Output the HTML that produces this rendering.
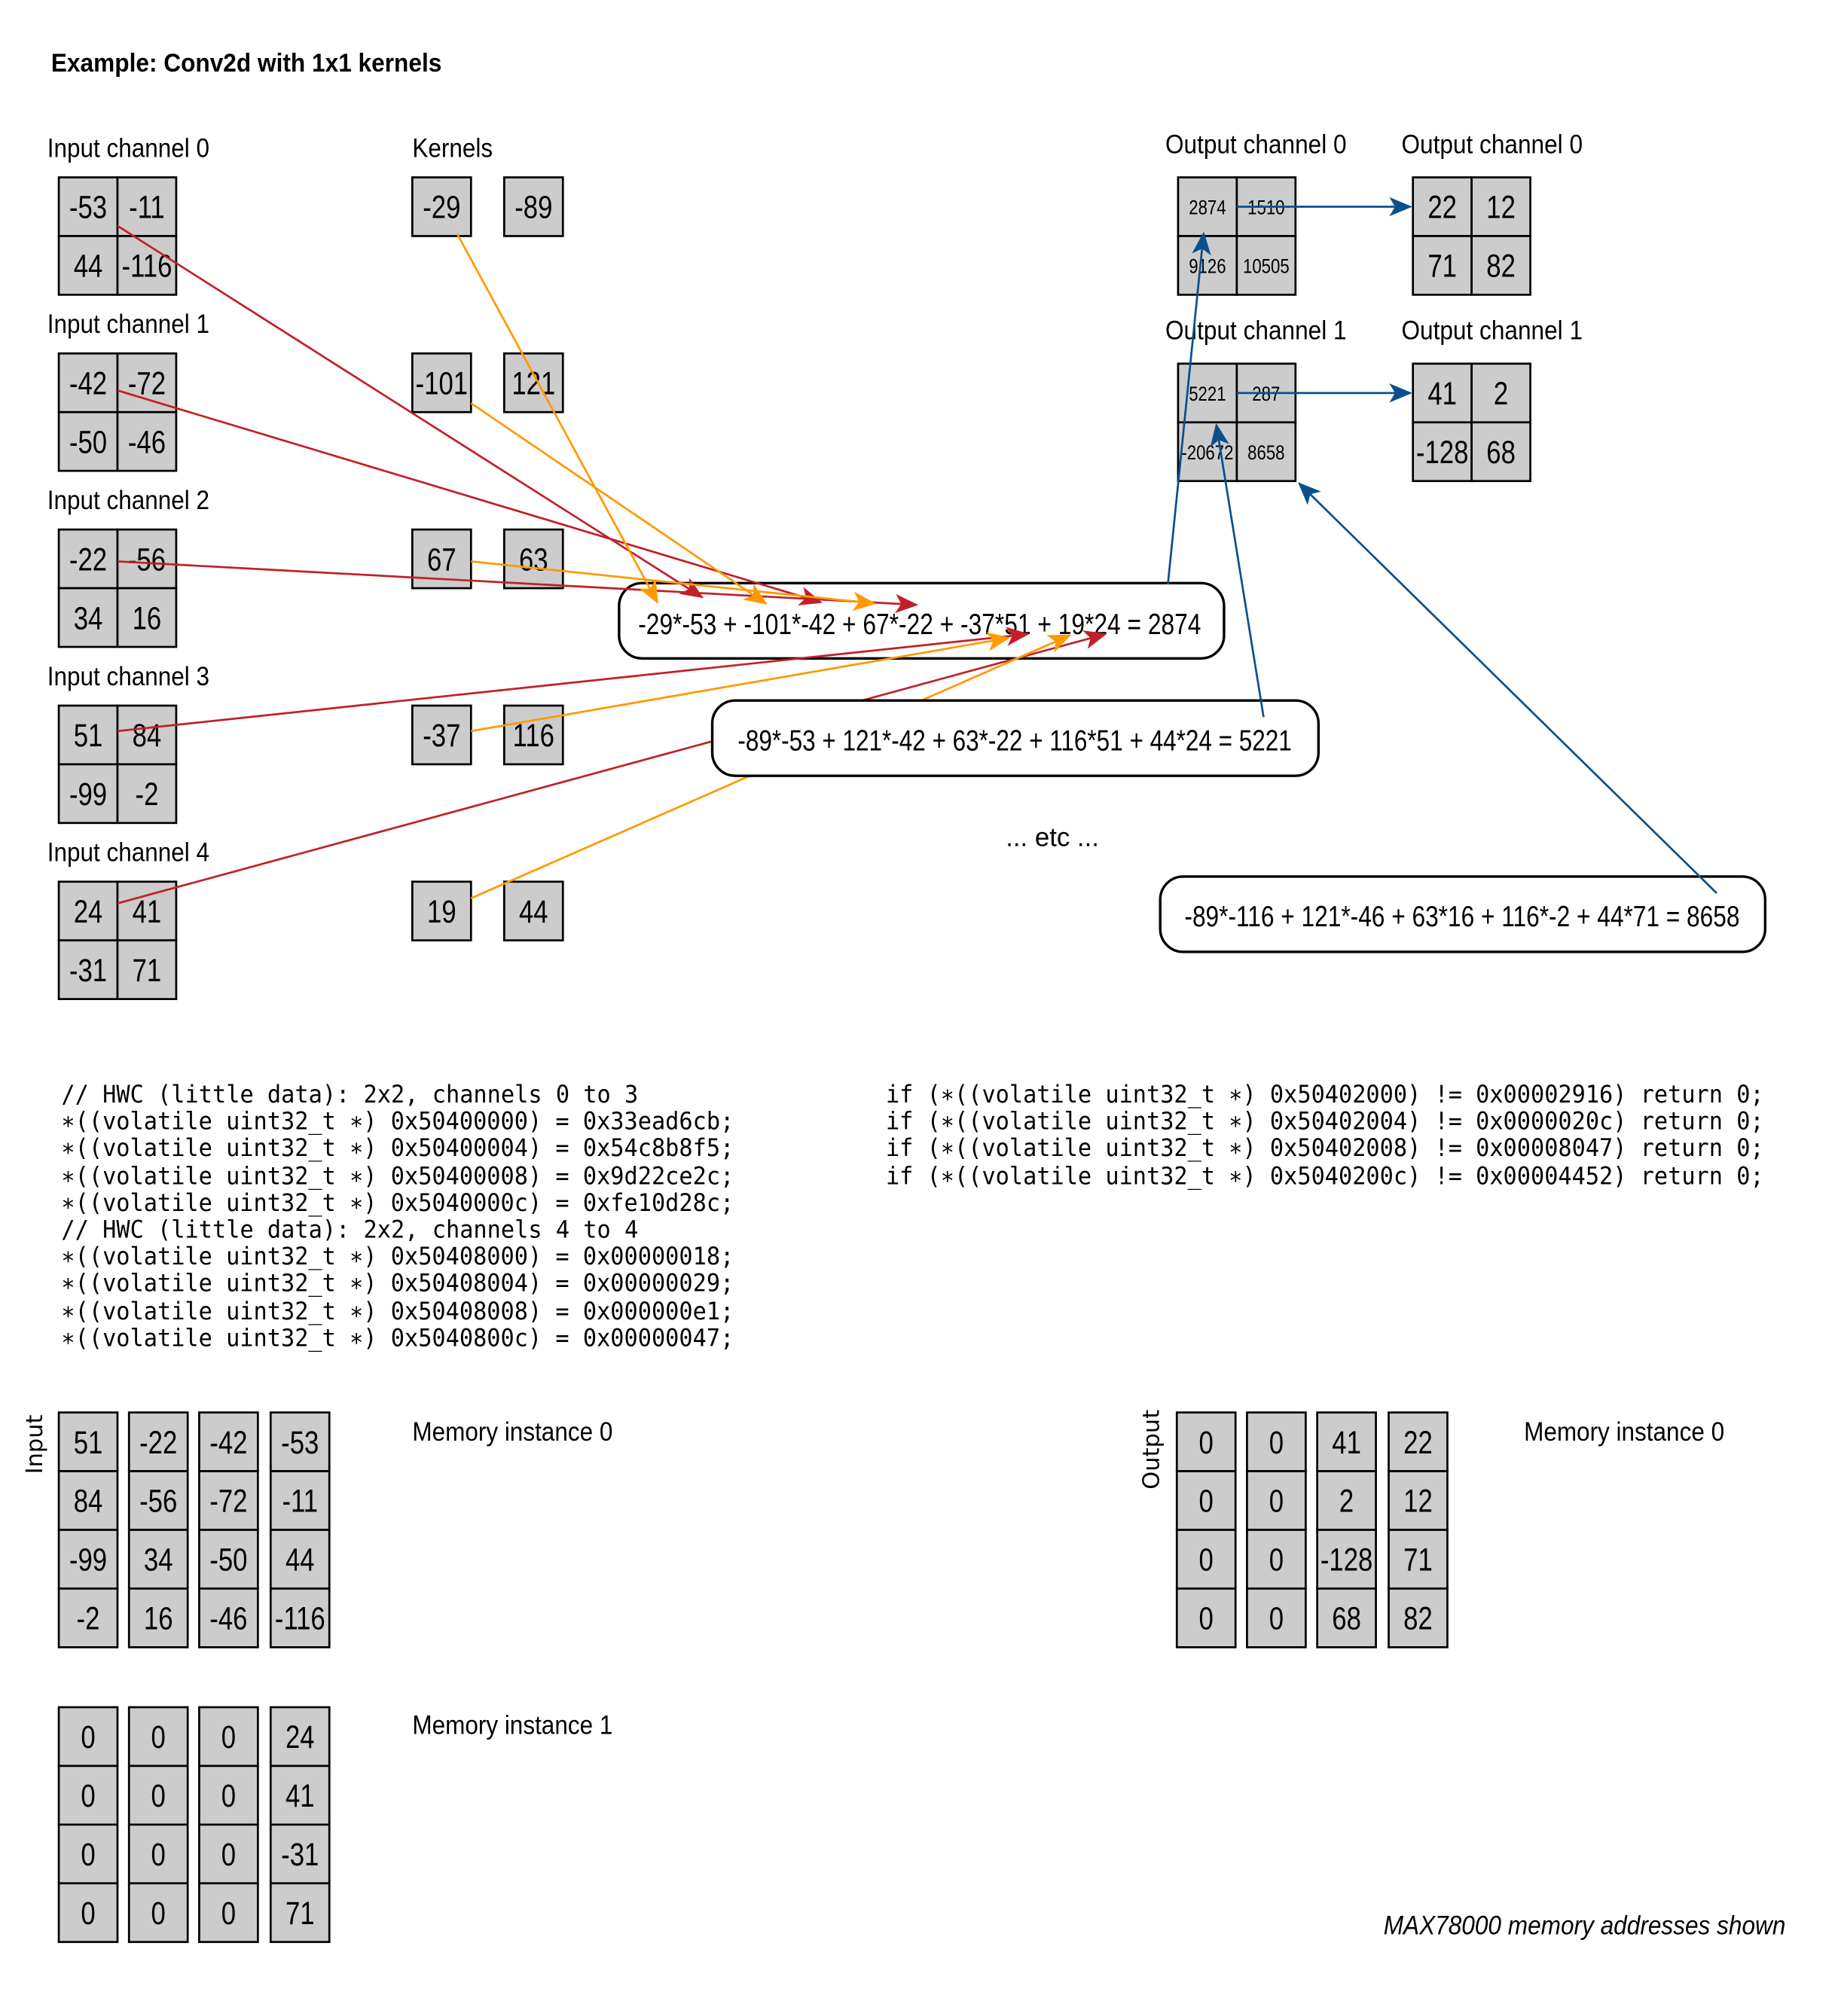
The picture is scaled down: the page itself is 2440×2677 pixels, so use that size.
<!DOCTYPE html>
<html><head><meta charset="utf-8"><style>
html,body{margin:0;padding:0;background:#fff}
svg{display:block}
.c{fill:#cccccc;stroke:#000;stroke-width:1.6}
text{font-family:"Liberation Sans Narrow","Liberation Sans",sans-serif;font-stretch:condensed;fill:#000}
.n{font-size:25px;text-anchor:middle;transform-box:fill-box;transform-origin:center;transform:scaleX(0.82)}
.s{font-size:16px;text-anchor:middle;transform-box:fill-box;transform-origin:center;transform:scaleX(0.82)}
.l{font-size:21px}
.m{font-family:"DejaVu Sans Mono","Liberation Mono",monospace;font-size:19px;font-stretch:normal}
.r{stroke:#c1202a;stroke-width:1.6;fill:none}
.o{stroke:#ff9900;stroke-width:1.6;fill:none}
.b{stroke:#0b4f8c;stroke-width:1.6;fill:none}
.box{fill:#fff;stroke:#000;stroke-width:2}
</style></head><body>
<svg width="2440" height="2677" viewBox="0 0 1440 1580" xmlns="http://www.w3.org/2000/svg">
<defs>
<marker id="ar" viewBox="0 0 12 10" refX="11" refY="5" markerWidth="19" markerHeight="15" markerUnits="userSpaceOnUse" orient="auto"><path d="M0,0 L12,5 L0,10 L3,5z" fill="#c1202a"/></marker>
<marker id="ao" viewBox="0 0 12 10" refX="11" refY="5" markerWidth="19" markerHeight="15" markerUnits="userSpaceOnUse" orient="auto"><path d="M0,0 L12,5 L0,10 L3,5z" fill="#ff9900"/></marker>
<marker id="ab" viewBox="0 0 12 10" refX="11" refY="5" markerWidth="19" markerHeight="15" markerUnits="userSpaceOnUse" orient="auto"><path d="M0,0 L12,5 L0,10 L3,5z" fill="#0b4f8c"/></marker>
</defs>

<text x="40" y="56" style="font-size:20px;font-weight:bold" textLength="306" lengthAdjust="spacingAndGlyphs">Example: Conv2d with 1x1 kernels</text>

<text class="l" x="37" y="123" textLength="127" lengthAdjust="spacingAndGlyphs">Input channel 0</text>
<text class="l" x="37" y="261" textLength="127" lengthAdjust="spacingAndGlyphs">Input channel 1</text>
<text class="l" x="37" y="399" textLength="127" lengthAdjust="spacingAndGlyphs">Input channel 2</text>
<text class="l" x="37" y="537" textLength="127" lengthAdjust="spacingAndGlyphs">Input channel 3</text>
<text class="l" x="37" y="675" textLength="127" lengthAdjust="spacingAndGlyphs">Input channel 4</text>
<text class="l" x="323" y="123" textLength="63" lengthAdjust="spacingAndGlyphs">Kernels</text>
<text class="l" x="913" y="120" textLength="142" lengthAdjust="spacingAndGlyphs">Output channel 0</text>
<text class="l" x="1098" y="120" textLength="142" lengthAdjust="spacingAndGlyphs">Output channel 0</text>
<text class="l" x="913" y="266" textLength="142" lengthAdjust="spacingAndGlyphs">Output channel 1</text>
<text class="l" x="1098" y="266" textLength="142" lengthAdjust="spacingAndGlyphs">Output channel 1</text>

<g>
<rect class="c" x="46" y="139" width="46" height="46"/><rect class="c" x="92" y="139" width="46" height="46"/><rect class="c" x="46" y="185" width="46" height="46"/><rect class="c" x="92" y="185" width="46" height="46"/>
<text class="n" x="69" y="171">-53</text><text class="n" x="115" y="171">-11</text><text class="n" x="69" y="217">44</text><text class="n" x="115" y="217">-116</text>

<rect class="c" x="46" y="277" width="46" height="46"/><rect class="c" x="92" y="277" width="46" height="46"/><rect class="c" x="46" y="323" width="46" height="46"/><rect class="c" x="92" y="323" width="46" height="46"/>
<text class="n" x="69" y="309">-42</text><text class="n" x="115" y="309">-72</text><text class="n" x="69" y="355">-50</text><text class="n" x="115" y="355">-46</text>

<rect class="c" x="46" y="415" width="46" height="46"/><rect class="c" x="92" y="415" width="46" height="46"/><rect class="c" x="46" y="461" width="46" height="46"/><rect class="c" x="92" y="461" width="46" height="46"/>
<text class="n" x="69" y="447">-22</text><text class="n" x="115" y="447">-56</text><text class="n" x="69" y="493">34</text><text class="n" x="115" y="493">16</text>

<rect class="c" x="46" y="553" width="46" height="46"/><rect class="c" x="92" y="553" width="46" height="46"/><rect class="c" x="46" y="599" width="46" height="46"/><rect class="c" x="92" y="599" width="46" height="46"/>
<text class="n" x="69" y="585">51</text><text class="n" x="115" y="585">84</text><text class="n" x="69" y="631">-99</text><text class="n" x="115" y="631">-2</text>

<rect class="c" x="46" y="691" width="46" height="46"/><rect class="c" x="92" y="691" width="46" height="46"/><rect class="c" x="46" y="737" width="46" height="46"/><rect class="c" x="92" y="737" width="46" height="46"/>
<text class="n" x="69" y="723">24</text><text class="n" x="115" y="723">41</text><text class="n" x="69" y="769">-31</text><text class="n" x="115" y="769">71</text>
</g>

<g>
<rect class="c" x="323" y="139" width="46" height="46"/><rect class="c" x="395" y="139" width="46" height="46"/>
<text class="n" x="346" y="171">-29</text><text class="n" x="418" y="171">-89</text>
<rect class="c" x="323" y="277" width="46" height="46"/><rect class="c" x="395" y="277" width="46" height="46"/>
<text class="n" x="346" y="309">-101</text><text class="n" x="418" y="309">121</text>
<rect class="c" x="323" y="415" width="46" height="46"/><rect class="c" x="395" y="415" width="46" height="46"/>
<text class="n" x="346" y="447">67</text><text class="n" x="418" y="447">63</text>
<rect class="c" x="323" y="553" width="46" height="46"/><rect class="c" x="395" y="553" width="46" height="46"/>
<text class="n" x="346" y="585">-37</text><text class="n" x="418" y="585">116</text>
<rect class="c" x="323" y="691" width="46" height="46"/><rect class="c" x="395" y="691" width="46" height="46"/>
<text class="n" x="346" y="723">19</text><text class="n" x="418" y="723">44</text>
</g>

<g>
<rect class="c" x="923" y="139" width="46" height="46"/><rect class="c" x="969" y="139" width="46" height="46"/><rect class="c" x="923" y="185" width="46" height="46"/><rect class="c" x="969" y="185" width="46" height="46"/>
<text class="s" x="946" y="168">2874</text><text class="s" x="992" y="168">1510</text><text class="s" x="946" y="214">9126</text><text class="s" x="992" y="214">10505</text>
<rect class="c" x="923" y="285" width="46" height="46"/><rect class="c" x="969" y="285" width="46" height="46"/><rect class="c" x="923" y="331" width="46" height="46"/><rect class="c" x="969" y="331" width="46" height="46"/>
<text class="s" x="946" y="314">5221</text><text class="s" x="992" y="314">287</text><text class="s" x="946" y="360">-20672</text><text class="s" x="992" y="360">8658</text>

<rect class="c" x="1107" y="139" width="46" height="46"/><rect class="c" x="1153" y="139" width="46" height="46"/><rect class="c" x="1107" y="185" width="46" height="46"/><rect class="c" x="1153" y="185" width="46" height="46"/>
<text class="n" x="1130" y="171">22</text><text class="n" x="1176" y="171">12</text><text class="n" x="1130" y="217">71</text><text class="n" x="1176" y="217">82</text>
<rect class="c" x="1107" y="285" width="46" height="46"/><rect class="c" x="1153" y="285" width="46" height="46"/><rect class="c" x="1107" y="331" width="46" height="46"/><rect class="c" x="1153" y="331" width="46" height="46"/>
<text class="n" x="1130" y="317">41</text><text class="n" x="1176" y="317">2</text><text class="n" x="1130" y="363">-128</text><text class="n" x="1176" y="363">68</text>
</g>

<rect class="box" x="485" y="457" width="474" height="59" rx="18"/>
<text x="500" y="497" style="font-size:23px" textLength="441" lengthAdjust="spacingAndGlyphs">-29*-53 + -101*-42 + 67*-22 + -37*51 + 19*24 = 2874</text>

<line class="r" x1="92" y1="177" x2="550" y2="468" marker-end="url(#ar)"/>
<line class="r" x1="92" y1="306" x2="643" y2="472" marker-end="url(#ar)"/>
<line class="r" x1="92" y1="440" x2="718" y2="474" marker-end="url(#ar)"/>
<line class="r" x1="92" y1="573" x2="805" y2="497" marker-end="url(#ar)"/>
<line class="r" x1="92" y1="708" x2="866" y2="497" marker-end="url(#ar)"/>
<line class="o" x1="358" y1="183" x2="515" y2="472" marker-end="url(#ao)"/>
<line class="o" x1="369" y1="316" x2="600" y2="473" marker-end="url(#ao)"/>
<line class="o" x1="369" y1="440" x2="685" y2="473" marker-end="url(#ao)"/>
<line class="o" x1="369" y1="573" x2="790" y2="500" marker-end="url(#ao)"/>
<line class="o" x1="369" y1="704" x2="838" y2="498" marker-end="url(#ao)"/>

<rect class="box" x="558" y="549" width="475" height="59" rx="18"/>
<text x="578" y="588" style="font-size:23px" textLength="434" lengthAdjust="spacingAndGlyphs">-89*-53 + 121*-42 + 63*-22 + 116*51 + 44*24 = 5221</text>

<rect class="box" x="909" y="687" width="474" height="59" rx="18"/>
<text x="928" y="726" style="font-size:23px" textLength="435" lengthAdjust="spacingAndGlyphs">-89*-116 + 121*-46 + 63*16 + 116*-2 + 44*71 = 8658</text>

<text class="l" x="788" y="663" textLength="73" lengthAdjust="spacingAndGlyphs">... etc ...</text>

<line class="b" x1="915" y1="458" x2="943" y2="183" marker-end="url(#ab)"/>
<line class="b" x1="990" y1="562" x2="953" y2="333" marker-end="url(#ab)"/>
<line class="b" x1="1345" y1="700" x2="1018" y2="379" marker-end="url(#ab)"/>
<line class="b" x1="969" y1="162" x2="1105" y2="162" marker-end="url(#ab)"/>
<line class="b" x1="969" y1="308" x2="1105" y2="308" marker-end="url(#ab)"/>

<g>
<text class="m" x="48" y="864" textLength="452" lengthAdjust="spacingAndGlyphs">// HWC (little data): 2x2, channels 0 to 3</text>
<text class="m" x="48" y="885" textLength="527" lengthAdjust="spacingAndGlyphs">∗((volatile uint32_t ∗) 0x50400000) = 0x33ead6cb;</text>
<text class="m" x="48" y="906" textLength="527" lengthAdjust="spacingAndGlyphs">∗((volatile uint32_t ∗) 0x50400004) = 0x54c8b8f5;</text>
<text class="m" x="48" y="928" textLength="527" lengthAdjust="spacingAndGlyphs">∗((volatile uint32_t ∗) 0x50400008) = 0x9d22ce2c;</text>
<text class="m" x="48" y="949" textLength="527" lengthAdjust="spacingAndGlyphs">∗((volatile uint32_t ∗) 0x5040000c) = 0xfe10d28c;</text>
<text class="m" x="48" y="970" textLength="452" lengthAdjust="spacingAndGlyphs">// HWC (little data): 2x2, channels 4 to 4</text>
<text class="m" x="48" y="991" textLength="527" lengthAdjust="spacingAndGlyphs">∗((volatile uint32_t ∗) 0x50408000) = 0x00000018;</text>
<text class="m" x="48" y="1012" textLength="527" lengthAdjust="spacingAndGlyphs">∗((volatile uint32_t ∗) 0x50408004) = 0x00000029;</text>
<text class="m" x="48" y="1034" textLength="527" lengthAdjust="spacingAndGlyphs">∗((volatile uint32_t ∗) 0x50408008) = 0x000000e1;</text>
<text class="m" x="48" y="1055" textLength="527" lengthAdjust="spacingAndGlyphs">∗((volatile uint32_t ∗) 0x5040800c) = 0x00000047;</text>
</g>
<g>
<text class="m" x="694" y="864" textLength="688" lengthAdjust="spacingAndGlyphs">if (∗((volatile uint32_t ∗) 0x50402000) != 0x00002916) return 0;</text>
<text class="m" x="694" y="885" textLength="688" lengthAdjust="spacingAndGlyphs">if (∗((volatile uint32_t ∗) 0x50402004) != 0x0000020c) return 0;</text>
<text class="m" x="694" y="906" textLength="688" lengthAdjust="spacingAndGlyphs">if (∗((volatile uint32_t ∗) 0x50402008) != 0x00008047) return 0;</text>
<text class="m" x="694" y="928" textLength="688" lengthAdjust="spacingAndGlyphs">if (∗((volatile uint32_t ∗) 0x5040200c) != 0x00004452) return 0;</text>
</g>

<text x="33" y="1132" transform="rotate(-90 33 1132)" style="font-family:'DejaVu Sans',sans-serif;font-size:18px;font-stretch:normal;text-anchor:middle">Input</text>
<g>
<rect class="c" x="46" y="1107" width="46" height="46"/><rect class="c" x="46" y="1153" width="46" height="46"/><rect class="c" x="46" y="1199" width="46" height="46"/><rect class="c" x="46" y="1245" width="46" height="46"/>
<rect class="c" x="101" y="1107" width="46" height="46"/><rect class="c" x="101" y="1153" width="46" height="46"/><rect class="c" x="101" y="1199" width="46" height="46"/><rect class="c" x="101" y="1245" width="46" height="46"/>
<rect class="c" x="156" y="1107" width="46" height="46"/><rect class="c" x="156" y="1153" width="46" height="46"/><rect class="c" x="156" y="1199" width="46" height="46"/><rect class="c" x="156" y="1245" width="46" height="46"/>
<rect class="c" x="212" y="1107" width="46" height="46"/><rect class="c" x="212" y="1153" width="46" height="46"/><rect class="c" x="212" y="1199" width="46" height="46"/><rect class="c" x="212" y="1245" width="46" height="46"/>
<text class="n" x="69" y="1139">51</text><text class="n" x="69" y="1185">84</text><text class="n" x="69" y="1231">-99</text><text class="n" x="69" y="1277">-2</text>
<text class="n" x="124" y="1139">-22</text><text class="n" x="124" y="1185">-56</text><text class="n" x="124" y="1231">34</text><text class="n" x="124" y="1277">16</text>
<text class="n" x="179" y="1139">-42</text><text class="n" x="179" y="1185">-72</text><text class="n" x="179" y="1231">-50</text><text class="n" x="179" y="1277">-46</text>
<text class="n" x="235" y="1139">-53</text><text class="n" x="235" y="1185">-11</text><text class="n" x="235" y="1231">44</text><text class="n" x="235" y="1277">-116</text>
</g>
<text class="l" x="323" y="1129" textLength="157" lengthAdjust="spacingAndGlyphs">Memory instance 0</text>

<g>
<rect class="c" x="46" y="1338" width="46" height="46"/><rect class="c" x="46" y="1384" width="46" height="46"/><rect class="c" x="46" y="1430" width="46" height="46"/><rect class="c" x="46" y="1476" width="46" height="46"/>
<rect class="c" x="101" y="1338" width="46" height="46"/><rect class="c" x="101" y="1384" width="46" height="46"/><rect class="c" x="101" y="1430" width="46" height="46"/><rect class="c" x="101" y="1476" width="46" height="46"/>
<rect class="c" x="156" y="1338" width="46" height="46"/><rect class="c" x="156" y="1384" width="46" height="46"/><rect class="c" x="156" y="1430" width="46" height="46"/><rect class="c" x="156" y="1476" width="46" height="46"/>
<rect class="c" x="212" y="1338" width="46" height="46"/><rect class="c" x="212" y="1384" width="46" height="46"/><rect class="c" x="212" y="1430" width="46" height="46"/><rect class="c" x="212" y="1476" width="46" height="46"/>
<text class="n" x="69" y="1370">0</text><text class="n" x="69" y="1416">0</text><text class="n" x="69" y="1462">0</text><text class="n" x="69" y="1508">0</text>
<text class="n" x="124" y="1370">0</text><text class="n" x="124" y="1416">0</text><text class="n" x="124" y="1462">0</text><text class="n" x="124" y="1508">0</text>
<text class="n" x="179" y="1370">0</text><text class="n" x="179" y="1416">0</text><text class="n" x="179" y="1462">0</text><text class="n" x="179" y="1508">0</text>
<text class="n" x="235" y="1370">24</text><text class="n" x="235" y="1416">41</text><text class="n" x="235" y="1462">-31</text><text class="n" x="235" y="1508">71</text>
</g>
<text class="l" x="323" y="1359" textLength="157" lengthAdjust="spacingAndGlyphs">Memory instance 1</text>

<text x="908" y="1136" transform="rotate(-90 908 1136)" style="font-family:'DejaVu Sans',sans-serif;font-size:18px;font-stretch:normal;text-anchor:middle">Output</text>
<g>
<rect class="c" x="922" y="1107" width="46" height="46"/><rect class="c" x="922" y="1153" width="46" height="46"/><rect class="c" x="922" y="1199" width="46" height="46"/><rect class="c" x="922" y="1245" width="46" height="46"/>
<rect class="c" x="977" y="1107" width="46" height="46"/><rect class="c" x="977" y="1153" width="46" height="46"/><rect class="c" x="977" y="1199" width="46" height="46"/><rect class="c" x="977" y="1245" width="46" height="46"/>
<rect class="c" x="1032" y="1107" width="46" height="46"/><rect class="c" x="1032" y="1153" width="46" height="46"/><rect class="c" x="1032" y="1199" width="46" height="46"/><rect class="c" x="1032" y="1245" width="46" height="46"/>
<rect class="c" x="1088" y="1107" width="46" height="46"/><rect class="c" x="1088" y="1153" width="46" height="46"/><rect class="c" x="1088" y="1199" width="46" height="46"/><rect class="c" x="1088" y="1245" width="46" height="46"/>
<text class="n" x="945" y="1139">0</text><text class="n" x="945" y="1185">0</text><text class="n" x="945" y="1231">0</text><text class="n" x="945" y="1277">0</text>
<text class="n" x="1000" y="1139">0</text><text class="n" x="1000" y="1185">0</text><text class="n" x="1000" y="1231">0</text><text class="n" x="1000" y="1277">0</text>
<text class="n" x="1055" y="1139">41</text><text class="n" x="1055" y="1185">2</text><text class="n" x="1055" y="1231">-128</text><text class="n" x="1055" y="1277">68</text>
<text class="n" x="1111" y="1139">22</text><text class="n" x="1111" y="1185">12</text><text class="n" x="1111" y="1231">71</text><text class="n" x="1111" y="1277">82</text>
</g>
<text class="l" x="1194" y="1129" textLength="157" lengthAdjust="spacingAndGlyphs">Memory instance 0</text>

<text x="1084" y="1516" style="font-size:21px;font-style:italic" textLength="315" lengthAdjust="spacingAndGlyphs">MAX78000 memory addresses shown</text>
</svg>
</body></html>
